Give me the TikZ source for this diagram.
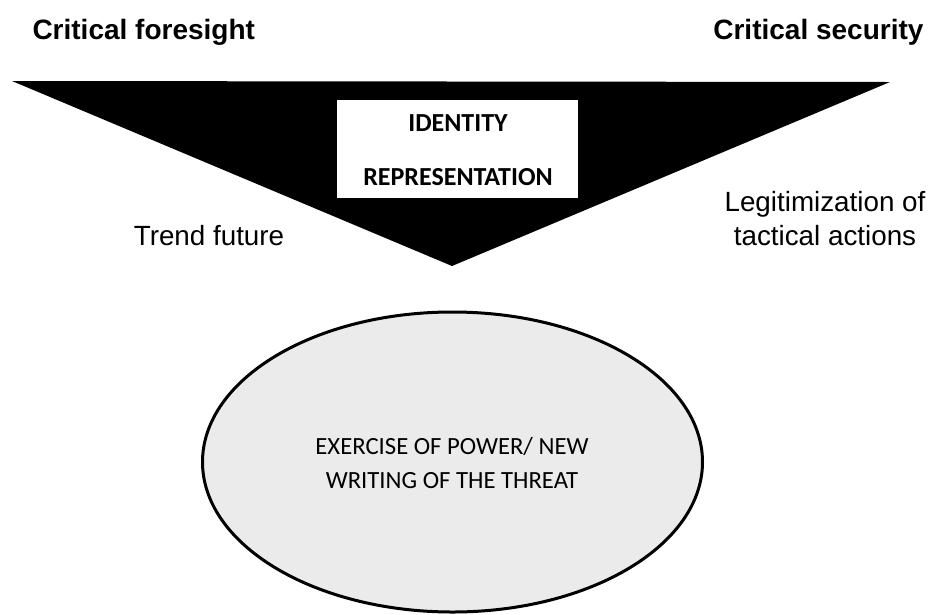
\documentclass[tikz,border=0pt]{standalone}
\usepackage{fontspec}
\setmainfont{Liberation Sans}
\newfontfamily\calibri{Carlito}
\usetikzlibrary{shapes.geometric}
\begin{document}
\begin{tikzpicture}[x=1pt,y=-1pt,
  head/.style={font=\fontsize{28}{30}\selectfont\bfseries},
  side/.style={font=\fontsize{27.8}{34}\selectfont, align=center},
  boxtext/.style={font=\calibri\fontsize{26}{28}\selectfont\bfseries},
  oval/.style={ellipse, draw=black, line width=3pt, fill=black!8, minimum width=500pt, minimum height=300pt, inner sep=0pt}]
\useasboundingbox (0,0) rectangle (932,614);
\fill[white] (0,0) rectangle (932,614);
\coordinate (tl) at (12,81);
\coordinate (tr) at (890,82);
\coordinate (tip) at (452,266);
\fill[black] (tl) -- (tr) -- (tip) -- cycle;
\node[head, anchor=west] (cf) at (29,32) {Critical foresight};
\node[head, anchor=east] (cs) at (927,32) {Critical security};
\node[fill=white, draw=none, minimum width=241pt, minimum height=98pt, inner sep=0pt] (box) at (457.5,149) {};
\node[boxtext] (id) at (458,123) {IDENTITY};
\node[boxtext] (rep) at (458,177) {REPRESENTATION};
\node[side] (tf) at (209,236) {Trend future};
\node[side] (leg) at (825,219) {Legitimization of\\tactical actions};
\node[oval] (ov) at (452.5,462) {};
\node[font=\calibri\fontsize{24.7}{33}\selectfont, align=center] (ex) at (452,463) {EXERCISE OF POWER/ NEW\\WRITING OF THE THREAT};
\end{tikzpicture}
\end{document}
